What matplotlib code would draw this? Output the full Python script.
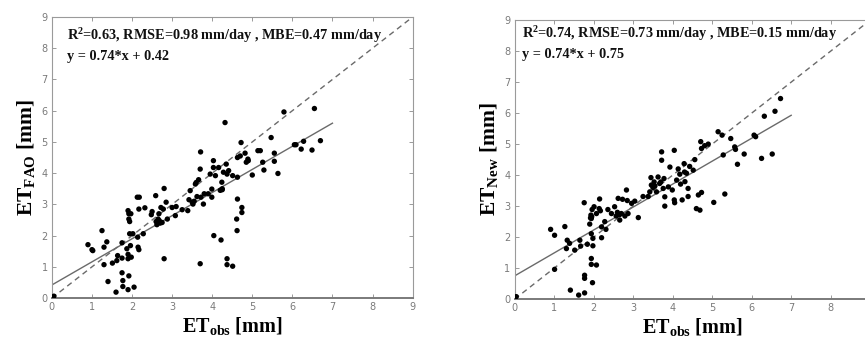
import matplotlib
matplotlib.use("Agg")
import matplotlib.pyplot as plt
import numpy as np

plt.rcParams["mathtext.fontset"] = "custom"
plt.rcParams["mathtext.rm"] = "Liberation Serif"
plt.rcParams["mathtext.bf"] = "Liberation Serif:bold"
plt.rcParams["mathtext.it"] = "Liberation Serif:italic"

# FAO-56 estimates vs. observed ET
fao_obs = [0.05, 0.9, 1.0, 1.02, 1.25, 1.3, 1.37, 1.3, 1.4, 1.51, 1.62, 1.64, 1.6,
           1.75, 1.75, 1.75, 1.77, 1.77, 1.87, 1.9, 1.9, 1.92, 1.92, 1.9, 1.97,
           1.94, 1.94, 1.96, 1.98, 1.92, 1.9, 2.05, 2.02, 2.13, 2.18, 2.17, 2.14,
           2.15, 2.17, 2.28, 2.32, 2.48, 2.5, 2.59, 2.6, 2.65, 2.68, 2.67, 2.72,
           2.8, 2.8, 2.78, 2.85, 2.88, 3.0, 3.08, 3.1, 3.25, 3.39, 3.42, 3.45,
           3.5, 3.52, 3.58, 3.62, 3.66, 3.7, 3.71, 3.7, 3.72, 3.78, 3.8, 3.9,
           3.95, 3.99, 3.99, 4.03, 4.03, 4.04, 4.08, 4.16, 4.22, 4.25, 4.24, 4.28,
           4.32, 4.35, 4.37, 4.37, 4.37, 4.41, 4.51, 4.51, 4.61, 4.62, 4.63, 4.63,
           4.63, 4.72, 4.74, 4.74, 4.82, 4.85, 4.89, 5.0, 5.14, 5.2, 5.26, 5.29,
           5.47, 5.55, 5.55, 5.64, 5.79, 6.05, 6.09, 6.22, 6.28, 6.49, 6.55, 6.7,
           2.62, 2.7, 2.75, 3.55, 3.6, 4.2, 4.25, 4.7, 4.9]
fao_est = [0.06, 1.71, 1.55, 1.52, 2.16, 1.63, 1.8, 1.07, 0.53, 1.12, 1.2, 1.36, 0.19,
           1.77, 1.28, 0.81, 0.56, 0.37, 1.58, 1.40, 1.26, 2.7, 2.53, 2.8, 2.7,
           2.45, 2.06, 1.68, 1.31, 0.71, 0.27, 0.35, 2.06, 3.23, 3.23, 2.85, 1.95,
           1.63, 1.55, 2.06, 2.89, 2.67, 2.77, 3.28, 2.45, 2.53, 2.48, 2.7, 2.9,
           3.51, 1.26, 2.85, 3.07, 2.53, 2.9, 2.64, 2.93, 2.83, 2.8, 3.15, 3.44,
           3.07, 3.01, 3.65, 3.25, 3.79, 4.13, 4.68, 1.1, 3.23, 3.01, 3.34, 3.34,
           3.97, 3.23, 3.49, 4.4, 4.18, 2.0, 3.92, 4.18, 1.86, 3.47, 3.71, 4.03,
           5.62, 4.29, 1.26, 1.07, 3.97, 4.08, 3.92, 1.02, 2.53, 2.16, 3.17, 3.87,
           4.5, 4.98, 2.9, 2.74, 4.64, 4.35, 4.45, 3.94, 4.72, 4.72, 4.35, 4.1,
           5.14, 4.64, 4.38, 3.99, 5.96, 4.91, 4.91, 4.77, 5.02, 4.74, 6.07, 5.04,
           2.35, 2.4, 2.42, 3.1, 3.7, 3.45, 3.5, 4.55, 4.4]

# New-model estimates vs. observed ET
new_obs = [0.04, 0.91, 1.01, 1.01, 1.27, 1.33, 1.31, 1.39, 1.41, 1.52, 1.62, 1.65,
           1.67, 1.77, 1.76, 1.77, 1.77, 1.84, 1.9, 1.93, 1.94, 1.96, 1.94, 1.94,
           1.94, 1.97, 1.98, 1.98, 2.01, 2.07, 2.07, 2.14, 2.15, 2.2, 2.2, 2.17,
           2.28, 2.31, 2.36, 2.45, 2.53, 2.57, 2.62, 2.66, 2.7, 2.73, 2.79, 2.83,
           2.85, 2.87, 2.96, 3.04, 3.13, 3.25, 3.38, 3.42, 3.46, 3.45, 3.53, 3.59,
           3.63, 3.67, 3.72, 3.72, 3.76, 3.78, 3.8, 3.8, 3.89, 3.93, 3.99, 4.04,
           4.04, 4.05, 4.1, 4.14, 4.18, 4.2, 4.24, 4.29, 4.31, 4.35, 4.39, 4.39,
           4.43, 4.52, 4.56, 4.6, 4.65, 4.69, 4.71, 4.73, 4.73, 4.81, 4.9, 5.04,
           5.15, 5.25, 5.28, 5.32, 5.47, 5.57, 5.59, 5.64, 5.81, 6.06, 6.1, 6.25,
           6.32, 6.52, 6.59, 6.73, 1.92, 1.95, 2.6, 2.65, 3.5, 3.55, 3.7, 4.3]
new_est = [0.08, 2.25, 2.06, 0.96, 2.34, 1.9, 1.63, 1.8, 0.29, 1.58, 0.13, 1.9,
           1.71, 0.2, 3.11, 0.77, 0.67, 1.77, 2.42, 2.71, 2.6, 2.89, 2.11, 1.31,
           1.12, 0.53, 1.72, 1.96, 2.98, 1.1, 2.76, 2.92, 3.23, 2.33, 1.98, 2.85,
           2.5, 2.25, 2.89, 2.76, 2.98, 2.68, 3.25, 2.55, 2.76, 3.22, 2.68, 3.52,
           3.18, 2.76, 3.09, 3.16, 2.63, 3.31, 3.31, 3.46, 3.68, 3.92, 3.78, 3.46,
           3.94, 3.73, 4.75, 4.48, 3.57, 3.89, 3.3, 3.0, 3.62, 4.26, 3.52, 4.8,
           3.2, 3.11, 3.84, 4.2, 4.03, 3.71, 3.2, 4.37, 3.79, 4.06, 3.31, 3.57,
           4.28, 4.16, 4.5, 2.92, 3.36, 2.87, 5.08, 4.86, 3.44, 4.95, 5.0, 3.12,
           5.4, 5.29, 4.65, 3.39, 5.18, 4.91, 4.83, 4.35, 4.68, 5.29, 5.24, 4.54,
           5.9, 4.68, 6.06, 6.47, 2.62, 2.66, 2.8, 2.72, 3.6, 3.65, 3.78, 4.1]

fao_fit = (0.74, 0.42)
new_fit = (0.74, 0.75)
fao_stats = r"R$^{\mathbf{2}}$=0.63, RMSE=0.98 mm/day , MBE=0.47 mm/day"
new_stats = r"R$^{\mathbf{2}}$=0.74, RMSE=0.73 mm/day , MBE=0.15 mm/day"
fao_eq = "y = 0.74*x + 0.42"
new_eq = "y = 0.74*x + 0.75"
x_label = r"ET$_{\mathbf{obs}}$ [mm]"
fao_label = r"ET$_{\mathbf{FAO}}$ [mm]"
new_label = r"ET$_{\mathbf{New}}$ [mm]"
ticks = list(range(0, 10))

fig = plt.figure(figsize=(8.65, 3.47), dpi=100)
ax1 = fig.add_axes([0.060, 0.141, 0.417, 0.810])
ax2 = fig.add_axes([0.595, 0.138, 0.411, 0.804])

serif = "Liberation Serif"


def panel(ax, xs, ys, fit, stats, eq, ylabel, txy, xticklabels):
    line_x = np.array([0, 9])
    ax.plot(line_x, line_x, ls=(0, (4, 3)), color="#6a6a6a", lw=1.0, zorder=2)
    fx = np.array([0, 7])
    ax.plot(fx, fit[0] * fx + fit[1], color="#6a6a6a", lw=1.0, zorder=2)
    ax.scatter(xs, ys, s=15, color="black", edgecolors="none", zorder=3)
    ax.set_xlim(0, 9)
    ax.set_ylim(0, 9)
    ax.set_xticks(ticks)
    ax.set_xticklabels(xticklabels)
    ax.set_yticks(ticks)
    ax.tick_params(direction="in", top=True, right=True, length=3, width=0.6,
                   colors="#8a8a8a", labelsize=7, labelcolor="#7a7a7a", pad=3)
    for s in ax.spines.values():
        s.set_color("#9a9a9a")
        s.set_linewidth(0.8)
    ax.spines["bottom"].set_color("#7a7a7a")
    ax.spines["bottom"].set_linewidth(1.4)
    ax.text(txy[0], txy[1], stats, family=serif, weight="bold", fontsize=10.3,
            va="center", ha="left", color="#111111")
    ax.text(txy[0], txy[1] - 0.68, eq, family=serif, weight="bold", fontsize=10.3,
            va="center", ha="left", color="#111111")
    ax.set_xlabel(x_label, family=serif, weight="bold", fontsize=14.5, labelpad=2)
    ax.set_ylabel(ylabel, family=serif, weight="bold", fontsize=15.5, labelpad=3)


panel(ax1, fao_obs, fao_est, fao_fit, fao_stats, fao_eq, fao_label, (0.37, 8.42),
      [str(t) for t in ticks])
# the right panel runs past the figure edge, so its last x label is left blank
panel(ax2, new_obs, new_est, new_fit, new_stats, new_eq, new_label, (0.18, 8.58),
      [str(t) for t in ticks[:-1]] + [""])

fig.savefig("out.png", dpi=100)
